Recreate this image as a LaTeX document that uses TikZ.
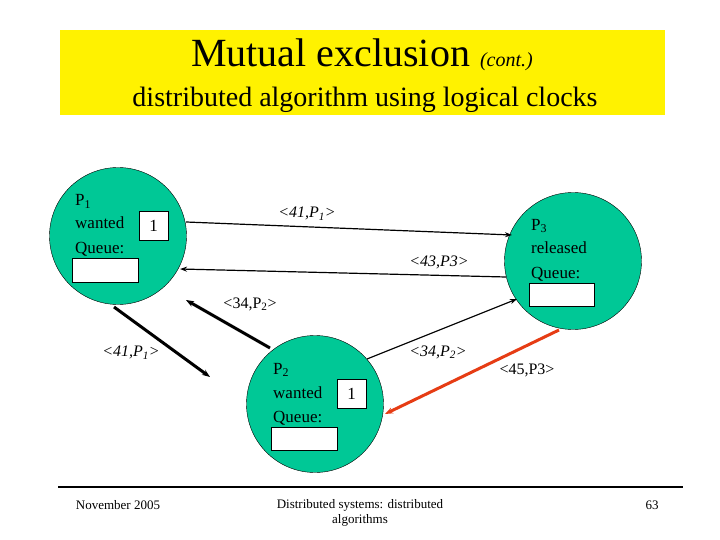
\documentclass[tikz,border=0pt]{standalone}
\usepackage{fontspec}
\setmainfont{Liberation Serif}
\begin{document}
\begin{tikzpicture}[x=1pt,y=-1pt,
  proc/.style={draw=black,fill={rgb,255:red,0;green,200;blue,150},ellipse,minimum width=137pt,minimum height=137pt,inner sep=0},
  txt/.style={anchor=base west,font=\fontsize{17}{18}\selectfont,inner sep=0},
  wbox/.style={draw=black,fill=white,inner sep=0,anchor=north west},
  lab/.style={font=\fontsize{16}{18}\selectfont\itshape,inner sep=0},
  plab/.style={font=\fontsize{16}{18}\selectfont,inner sep=0},
  msg/.style={-{Stealth[length=7pt,width=5pt]},line width=1.2pt},
  bmsg/.style={-{Stealth[length=8pt,width=6pt]},line width=3pt}]
\usetikzlibrary{arrows.meta,shapes.geometric}
\useasboundingbox (0,0) rectangle (720,540);
\fill[white] (0,0) rectangle (720,540);
\node[fill=yellow,minimum width=605pt,minimum height=85pt,anchor=north west,inner sep=0] (title) at (60,30) {};
\node (t1) at (362,55) {\fontsize{40}{44}\selectfont Mutual exclusion \fontsize{20}{22}\selectfont\itshape(cont.)};
\node (t2) at (365,100) {\fontsize{28}{30}\selectfont distributed algorithm using logical clocks};
% processes
\node[proc] (p1) at (118,236) {};
\node[proc] (p3) at (573,261) {};
\node[proc] (p2) at (315,404) {};
% P1 contents
\node[txt] (p1a) at (75,206) {P\textsubscript{1}};
\node[txt] (p1b) at (75,229) {wanted};
\node[wbox,minimum width=29pt,minimum height=29pt] (p1c) at (139,211) {};
\node[font=\fontsize{17}{18}\selectfont] (p1d) at (p1c) {1};
\node[txt] (p1e) at (75,253) {Queue:};
\node[wbox,minimum width=66pt,minimum height=24pt] (p1f) at (72,258) {};
% P3 contents
\node[txt] (p3a) at (531,230) {P\textsubscript{3}};
\node[txt] (p3b) at (531,254) {released};
\node[txt] (p3e) at (531,278) {Queue:};
\node[wbox,minimum width=65pt,minimum height=23pt] (p3f) at (529,283) {};
% P2 contents
\node[txt] (p2a) at (273,374) {P\textsubscript{2}};
\node[txt] (p2b) at (273,398) {wanted};
\node[wbox,minimum width=29pt,minimum height=29pt] (p2c) at (337,379) {};
\node[font=\fontsize{17}{18}\selectfont] (p2d) at (p2c) {1};
\node[txt] (p2e) at (273,422) {Queue:};
\node[wbox,minimum width=66pt,minimum height=23pt] (p2f) at (271,427) {};
% arrows
\coordinate (a1s) at (186,222); \coordinate (a1e) at (512,235);
\draw[msg] (a1s) -- (a1e);
\node[lab] (l1) at (307,214) {<41,P\textsubscript{1}>};
\coordinate (a2s) at (506,277); \coordinate (a2e) at (180,269);
\draw[msg] (a2s) -- (a2e);
\node[lab] (l2) at (439,262) {<43,P3>};
\coordinate (a3s) at (270,348); \coordinate (a3e) at (186,300);
\draw[bmsg] (a3s) -- (a3e);
\node[plab] (l3) at (250,304) {<34,P\textsubscript{2}>};
\coordinate (a4s) at (114,307); \coordinate (a4e) at (210,377);
\draw[bmsg] (a4s) -- (a4e);
\node[lab] (l4) at (131,353) {<41,P\textsubscript{1}>};
\coordinate (a5s) at (367,359); \coordinate (a5e) at (517,299);
\draw[msg] (a5s) -- (a5e);
\node[lab] (l5) at (438,352) {<34,P\textsubscript{2}>};
\coordinate (a6s) at (559,330); \coordinate (a6e) at (385,414);
\draw[bmsg,color={rgb,255:red,230;green,60;blue,20}] (a6s) -- (a6e);
\node[plab] (l6) at (527,370) {<45,P3>};
% footer
\draw[line width=1.5pt] (58,487) -- (683,487);
\node[font=\fontsize{13}{15}\selectfont] (f1) at (118,505) {November 2005};
\node[font=\fontsize{13}{15}\selectfont,align=center] (f2) at (360,513) {Distributed systems: distributed\\algorithms};
\node[font=\fontsize{13}{15}\selectfont] (f3) at (652,505) {63};
\end{tikzpicture}
\end{document}
